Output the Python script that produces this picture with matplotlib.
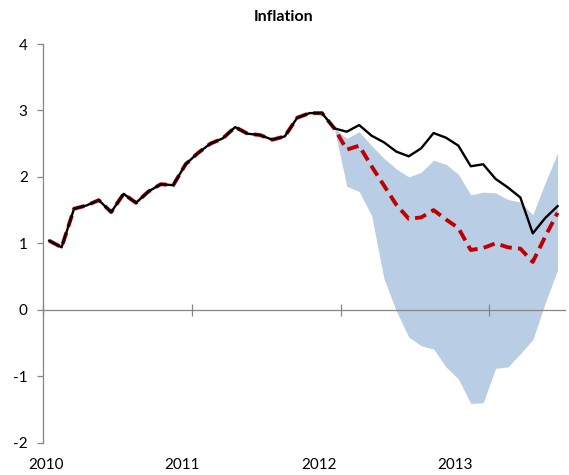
import matplotlib
matplotlib.use("Agg")
import matplotlib.pyplot as plt
import matplotlib.transforms as mtransforms
import numpy as np

plt.rcParams['font.family'] = ['Lato', 'DejaVu Sans']

# Monthly data, Jan 2010 .. Jun 2013 (42 months)
actual = [1.04, 0.94, 1.52, 1.57, 1.65, 1.47, 1.745, 1.61, 1.78, 1.89, 1.875, 2.19,
          2.36, 2.50, 2.58, 2.75, 2.65, 2.63, 2.56, 2.61, 2.89, 2.96, 2.96, 2.73,
          2.68, 2.78, 2.62, 2.52, 2.38, 2.31, 2.43, 2.66, 2.59, 2.47, 2.16, 2.19,
          1.97, 1.84, 1.69, 1.15, 1.38, 1.56]
forecast = [1.04, 0.94, 1.52, 1.57, 1.65, 1.47, 1.745, 1.61, 1.78, 1.89, 1.875, 2.19,
            2.36, 2.50, 2.58, 2.75, 2.65, 2.63, 2.56, 2.61, 2.89, 2.96, 2.96, 2.73,
            2.41, 2.47, 2.16, 1.87, 1.58, 1.37, 1.39, 1.50, 1.36, 1.23, 0.90, 0.93,
            1.00, 0.94, 0.92, 0.72, 1.10, 1.46]
band_start = 23
band_upper = [2.73, 2.58, 2.68, 2.47, 2.28, 2.12, 2.00, 2.07, 2.25, 2.19, 2.04, 1.73,
              1.77, 1.76, 1.66, 1.62, 1.43, 1.91, 2.36]
band_lower = [2.73, 1.86, 1.78, 1.42, 0.47, -0.02, -0.41, -0.54, -0.59, -0.86, -1.04, -1.41,
              -1.40, -0.88, -0.86, -0.66, -0.45, 0.10, 0.60]
year_labels = ['2010', '2011', '2012', '2013']
yticks = [-2, -1, 0, 1, 2, 3, 4]

x = np.arange(len(actual))
xb = np.arange(band_start, band_start + len(band_upper))

fig = plt.figure(figsize=(5.69, 4.75), dpi=100)
ax = fig.add_axes([43/569, 1 - 442.7/475, 522/569, 398.7/475])

ax.fill_between(xb, band_lower, band_upper, color='#B9CDE5', linewidth=0, zorder=1)
ax.plot(x, forecast, color='#C00000', linewidth=2.8, dashes=(3, 1.6), zorder=2,
        solid_capstyle='butt', dash_capstyle='butt')
ax.plot(x, actual, color='black', linewidth=1.7, zorder=3)

ax.set_xlim(-0.5, 41.6)
ax.set_ylim(-2, 4)
ax.set_yticks(yticks)
ax.set_yticklabels([str(v) for v in yticks])
ax.set_axisbelow(False)

for s in ['top', 'right']:
    ax.spines[s].set_visible(False)
ax.spines['bottom'].set_position(('data', 0))
ax.spines['bottom'].set_color('#868686')
ax.spines['left'].set_color('#868686')
ax.spines['bottom'].set_linewidth(0.9)
ax.spines['left'].set_linewidth(0.9)

ax.set_xticks([-0.5 + 12 * k for k in range(4)])
ax.set_xticklabels([])
ax.tick_params(axis='x', direction='inout', length=9, color='#868686', width=0.9)
ax.tick_params(axis='y', direction='out', length=4, color='#868686', width=0.9,
               pad=7, labelsize=11)

trans = mtransforms.blended_transform_factory(ax.transData, ax.transAxes)
for k, lab in enumerate(year_labels):
    ax.text(-0.27 + 11 * k, -0.056, lab, transform=trans, ha='center', va='center',
            fontsize=11)

fig.text(284/569, 1 - 17/475, 'Inflation', ha='center', va='center',
         fontsize=11.5, fontweight='bold')

fig.savefig('out.png', dpi=100)
